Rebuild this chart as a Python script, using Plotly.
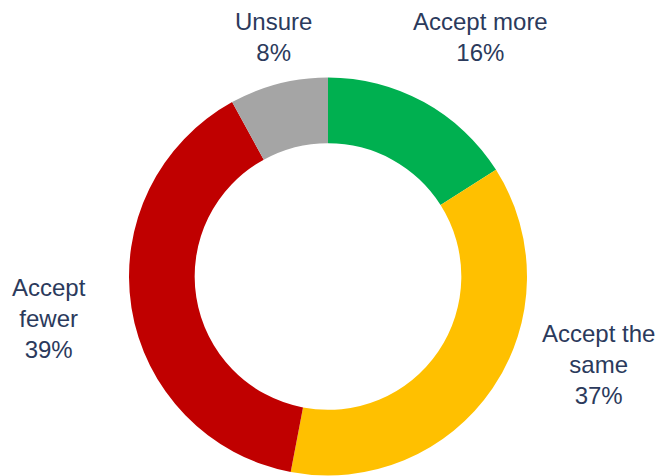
import plotly.graph_objects as go

categories = ["Accept more", "Accept the same", "Accept fewer", "Unsure"]
values = [16, 37, 39, 8]
label_lines = [["Accept more"], ["Accept the", "same"], ["Accept", "fewer"], ["Unsure"]]
colors = ["#00B050", "#FFC000", "#C00000", "#A5A5A5"]

W, H = 659, 476
cx, cy, r = 328, 276.5, 199

fig = go.Figure(go.Pie(
    labels=categories,
    values=values,
    hole=0.67,
    sort=False,
    direction="clockwise",
    rotation=0,
    marker=dict(colors=colors, line=dict(width=0)),
    textinfo="none",
    hoverinfo="label+percent",
    domain=dict(x=[(cx - r) / W, (cx + r) / W], y=[1 - (cy + r) / H, 1 - (cy - r) / H]),
    showlegend=False,
))

# label anchor positions (pixel centres of text blocks)
label_pos = [(480, 37), (598, 364), (49, 318), (273, 37)]
for lines, v, (px, py) in zip(label_lines, values, label_pos):
    fig.add_annotation(
        x=px / W, y=1 - py / H, xref="paper", yref="paper",
        text="<br>".join(lines + [f"{v}%"]),
        showarrow=False, xanchor="center", yanchor="middle",
        align="center",
        font=dict(family="Liberation Sans, Arial, sans-serif", size=24, color="#2B3A5C"),
    )

fig.update_layout(
    width=W, height=H,
    margin=dict(l=0, r=0, t=0, b=0),
    paper_bgcolor="white", plot_bgcolor="white",
)
fig.write_html("out.html", config={"displayModeBar": False})

with open("out.html", "r", encoding="utf-8") as f:
    html = f.read()
html = html.replace("<body>", "<body style=\"margin:0;overflow:hidden\">", 1)
with open("out.html", "w", encoding="utf-8") as f:
    f.write(html)
